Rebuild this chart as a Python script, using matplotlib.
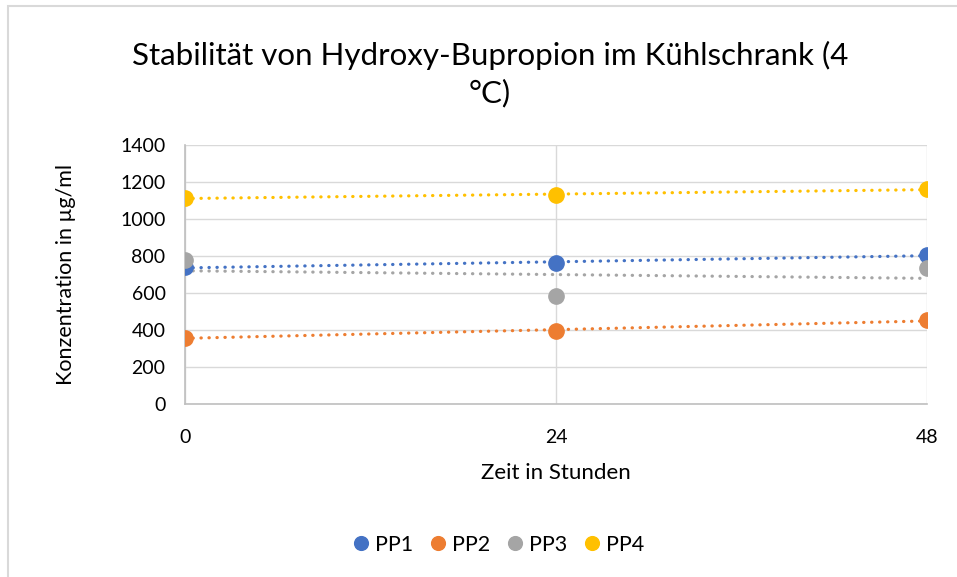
import matplotlib.pyplot as plt
import numpy as np
from matplotlib.patches import Rectangle

plt.rcParams['font.family'] = ['Lato', 'DejaVu Sans']

hours = [0, 24, 48]
series_names = ['PP1', 'PP2', 'PP3', 'PP4']
pp1 = [738, 764, 804]
pp2 = [358, 396, 452]
pp3 = [778, 584, 737]
pp4 = [1114, 1128, 1162]
colors = ['#4472C4', '#ED7D31', '#A5A5A5', '#FFC000']

fig = plt.figure(figsize=(9.57, 5.77), dpi=100)
ax = fig.add_axes([185 / 957, 173 / 577, 742 / 957, 259 / 577])

# light frame like the Excel chart area
fig.patches.append(Rectangle((8 / 957, -0.05), 1.2, 1.05 - 6 / 577,
                             transform=fig.transFigure, fill=False,
                             edgecolor='#D9D9D9', linewidth=1.5))

x = np.array(hours)
for name, vals, c in zip(series_names, [pp1, pp2, pp3, pp4], colors):
    # linear trendline (dotted), as in Excel
    slope, icpt = np.polyfit(x, vals, 1)
    ax.plot(x, slope * x + icpt, color=c, linewidth=2.3,
            linestyle=(0, (0.1, 2.4)), dash_capstyle='round', zorder=3)
    ax.plot(x, vals, 'o', color=c, markersize=11, label=name, zorder=4)

ax.set_xlim(0, 48)
ax.set_ylim(0, 1400)
ax.set_xticks(hours)
ax.set_yticks(range(0, 1401, 200))
ax.grid(True, color='#D9D9D9', linewidth=1)
ax.set_axisbelow(True)
for s in ['top', 'right']:
    ax.spines[s].set_visible(False)
for s in ['left', 'bottom']:
    ax.spines[s].set_color('#BFBFBF')
    ax.spines[s].set_linewidth(1.2)
ax.tick_params(length=0, labelsize=14, colors='#000000')
ax.tick_params(axis='y', pad=14)
ax.tick_params(axis='x', pad=18)

ax.set_xlabel('Zeit in Stunden', fontsize=16, labelpad=12)
ax.set_ylabel('Konzentration in µg/ml', fontsize=15.5, labelpad=32)

fig.text(0.512, 1 - 55 / 577, 'Stabilität von Hydroxy-Bupropion im Kühlschrank (4',
         ha='center', va='center', fontsize=22.5)
fig.text(0.512, 1 - 93 / 577, '°C)', ha='center', va='center', fontsize=22.5)

fig.legend(loc='center', bbox_to_anchor=(0.52, 1 - 545 / 577), ncol=4,
           frameon=False, fontsize=15.5, handlelength=0.9, handletextpad=0.2,
           columnspacing=0.7, markerscale=0.9)

fig.savefig('out.png', dpi=100)
